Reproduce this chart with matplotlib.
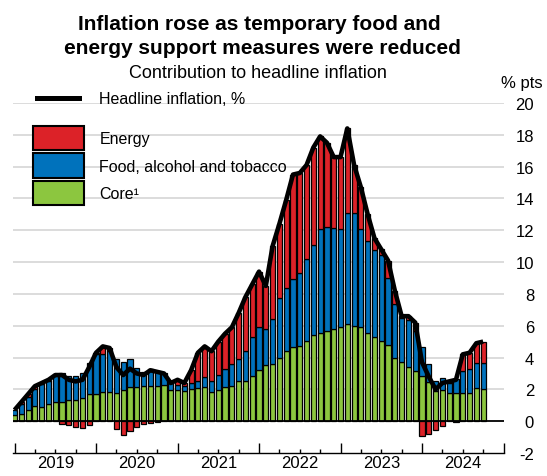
import numpy as np
import matplotlib
matplotlib.use("Agg")
import matplotlib.pyplot as plt
from matplotlib.lines import Line2D
from matplotlib.patches import Patch

plt.rcParams['font.family'] = ['Liberation Sans', 'DejaVu Sans']
plt.rcParams['axes.unicode_minus'] = False

# monthly, Jan 2019 - Oct 2024 (contributions in % pts)
headline = [0.7, 1.2, 1.7, 2.2, 2.4, 2.6, 2.9, 2.9, 2.6, 2.5, 2.6, 3.4,
            4.3, 4.7, 4.6, 3.4, 2.9, 3.3, 3.0, 2.9, 3.2, 3.1, 3.0, 2.4,
            2.6, 2.4, 3.2, 4.3, 4.7, 4.4, 5.0, 5.5, 5.9, 6.8, 7.8, 8.6,
            9.4, 8.5, 11.0, 12.4, 13.9, 15.5, 15.6, 16.1, 17.2, 17.9, 17.5, 16.6,
            16.6, 18.4, 16.1, 14.7, 13.0, 11.5, 10.8, 10.1, 8.2, 6.6, 6.6, 6.2,
            3.7, 2.8, 2.0, 2.4, 2.5, 2.6, 4.2, 4.3, 4.9, 5.0]

core = [0.42, 0.48, 0.70, 0.95, 0.90, 1.05, 1.18, 1.20, 1.33, 1.33, 1.45, 1.70,
        1.68, 1.85, 1.85, 1.80, 1.95, 2.15, 2.15, 2.20, 2.20, 2.20, 2.25, 1.95,
        1.95, 1.90, 2.00, 2.10, 2.15, 1.85, 1.96, 2.15, 2.23, 2.50, 2.50, 2.86,
        3.22, 3.52, 3.60, 3.98, 4.40, 4.68, 4.72, 5.07, 5.40, 5.56, 5.70, 5.80,
        5.93, 6.08, 6.00, 5.90, 5.55, 5.28, 5.07, 4.78, 3.95, 3.75, 3.39, 3.18,
        2.82, 2.48, 1.91, 1.96, 1.80, 1.78, 1.80, 1.80, 2.06, 2.02]

food = [0.28, 0.57, 0.85, 1.10, 1.45, 1.50, 1.72, 1.85, 1.52, 1.52, 1.55, 1.95,
        2.52, 2.35, 2.55, 2.10, 1.80, 1.75, 1.20, 0.90, 1.10, 0.95, 0.75, 0.45,
        0.35, 0.33, 0.40, 0.40, 0.65, 0.65, 0.94, 1.15, 1.35, 1.40, 1.90, 2.44,
        2.68, 2.30, 2.80, 3.77, 4.00, 4.27, 4.58, 5.13, 5.70, 6.54, 6.50, 6.35,
        6.17, 7.02, 7.10, 6.20, 5.75, 5.47, 5.36, 4.21, 3.43, 2.75, 2.96, 2.50,
        1.83, 1.12, 0.63, 0.74, 0.60, 0.87, 1.38, 1.45, 1.60, 1.64]

energy = [0.0, 0.15, 0.15, 0.15, 0.05, 0.05, 0.0, -0.15, -0.25, -0.35, -0.4, -0.25,
          0.1, 0.5, 0.2, -0.5, -0.85, -0.6, -0.35, -0.2, -0.1, -0.05, 0.0, 0.0,
          0.3, 0.17, 0.8, 1.8, 1.9, 1.9, 2.1, 2.2, 2.32, 2.9, 3.4, 3.3,
          3.5, 2.68, 4.6, 4.65, 5.5, 6.55, 6.3, 5.9, 6.1, 5.8, 5.3, 4.45,
          4.5, 5.3, 3.0, 2.6, 1.7, 0.75, 0.37, 1.11, 0.82, 0.1, 0.25, 0.52,
          -0.95, -0.8, -0.54, -0.3, 0.1, -0.05, 1.02, 1.05, 1.24, 1.34]

years = ['2019', '2020', '2021', '2022', '2023', '2024']
yticks = list(range(-2, 21, 2))

RED = '#dc2228'
BLUE = '#0072bc'
GREEN = '#8cc63f'

fig = plt.figure(figsize=(5.47, 4.77), dpi=100)
W, H = 547, 477
ax = fig.add_axes([12.5 / W, 1 - 454 / H, 491 / W, 350 / H])

x = np.arange(len(headline))
core_a = np.array(core)
food_a = np.array(food)
en = np.array(energy)
top = core_a + food_a

bw = 0.76
lw = 0.9
ax.bar(x, core_a, width=bw, color=GREEN, edgecolor='black', linewidth=lw, zorder=2)
ax.bar(x, food_a, bottom=core_a, width=bw, color=BLUE, edgecolor='black', linewidth=lw, zorder=2)
pos = en > 0
neg = en < 0
ax.bar(x[pos], en[pos], bottom=top[pos], width=bw, color=RED, edgecolor='black', linewidth=lw, zorder=2)
ax.bar(x[neg], en[neg], width=bw, color=RED, edgecolor='black', linewidth=lw, zorder=2)

ax.plot(x, headline, color='black', linewidth=3.3, solid_joinstyle='round',
        solid_capstyle='butt', zorder=4)

ax.set_xlim(-0.3, 72)
ax.set_ylim(-2, 20)

# grid and zero line
for v in yticks[1:]:
    if v == 0:
        continue
    ax.axhline(v, color='#d9d9d9', linewidth=1.3, zorder=0)
ax.axhline(0, color='black', linewidth=1.3, zorder=3)

for s in ['top', 'left', 'right']:
    ax.spines[s].set_visible(False)
ax.spines['bottom'].set_linewidth(1.0)

ax.set_yticks(yticks)
ax.set_yticklabels([str(v) for v in yticks])
ax.yaxis.tick_right()
ax.tick_params(axis='y', length=0, pad=22, labelsize=12)
for lab in ax.get_yticklabels():
    lab.set_horizontalalignment('right')

ax.set_xticks(np.arange(0, 73, 12))
ax.set_xticks(np.arange(0, 73, 3), minor=True)
ax.set_xticklabels([])
ax.tick_params(axis='x', which='major', direction='in', length=7, width=1.0)
ax.tick_params(axis='x', which='minor', direction='in', length=3.2, width=1.0)
for k, yr in enumerate(years):
    ax.text(6 + 12 * k, -0.005, yr, transform=ax.get_xaxis_transform(),
            ha='center', va='top', fontsize=12)

# titles
fig.text(259 / W, 1 - 24 / H, 'Inflation rose as temporary food and',
         ha='center', va='center', fontsize=15, fontweight='bold')
fig.text(262 / W, 1 - 49 / H, 'energy support measures were reduced',
         ha='center', va='center', fontsize=15, fontweight='bold')
fig.text(258 / W, 1 - 74 / H, 'Contribution to headline inflation',
         ha='center', va='center', fontsize=13)
fig.text(522 / W, 1 - 84 / H, '% pts', ha='center', va='center', fontsize=12)

# legends
fs = 11.5
leg1 = ax.legend([Line2D([], [], color='black', linewidth=3.6)], ['Headline inflation, %'],
                 loc='center left', bbox_to_anchor=(37 / W, 1 - 100 / H),
                 bbox_transform=fig.transFigure, frameon=False, fontsize=fs,
                 handlelength=2.63, handletextpad=1.25, borderpad=0, borderaxespad=0)
ax.add_artist(leg1)
handles = [Patch(facecolor=RED, edgecolor='black', linewidth=1.5),
           Patch(facecolor=BLUE, edgecolor='black', linewidth=1.5),
           Patch(facecolor=GREEN, edgecolor='black', linewidth=1.5)]
ax.legend(handles, ['Energy', 'Food, alcohol and tobacco', 'Core\u00b9'],
          loc='upper left', bbox_to_anchor=(33 / W, 1 - 127 / H),
          bbox_transform=fig.transFigure, frameon=False, fontsize=fs,
          handlelength=3.2, handleheight=1.95, handletextpad=0.95,
          labelspacing=0.2, borderpad=0, borderaxespad=0)

fig.savefig('out.png', dpi=100)
